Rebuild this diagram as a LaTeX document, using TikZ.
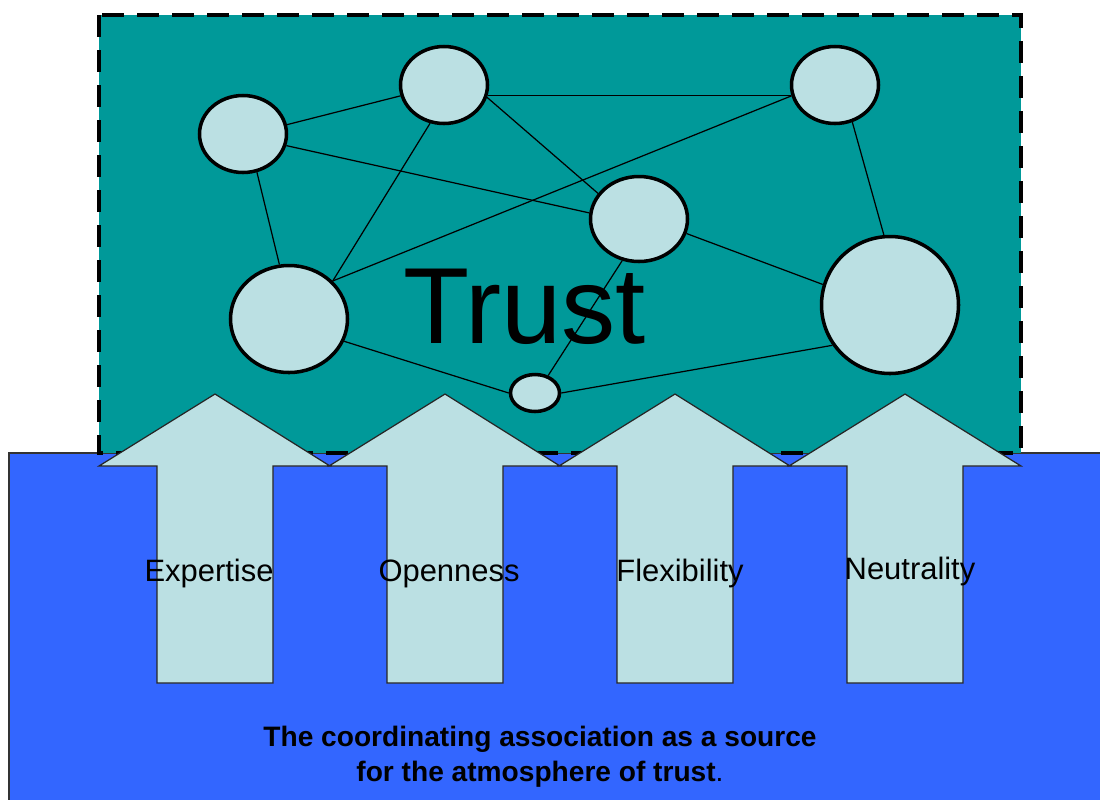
\documentclass[tikz,border=0pt]{standalone}
\usepackage{fontspec}
\setmainfont{Liberation Sans}
\usepackage{xcolor}
\usepackage{tikz}
\usetikzlibrary{shapes.geometric}
\definecolor{trteal}{HTML}{009999}
\definecolor{trblue}{HTML}{3366FF}
\definecolor{trlight}{HTML}{BBE0E3}
\tikzset{
  trbase/.style={fill=trblue, draw=black!80, line width=0.4pt},
  trframe/.style={fill=trteal, draw=black, line width=1.1pt, dash pattern=on 0.22cm off 0.13cm},
  trcirc/.style={ellipse, fill=trlight, draw=black, line width=1pt, inner sep=0pt},
  trlink/.style={line width=0.35pt, draw=black},
  trarrow/.style={fill=trlight, draw=black!85, line width=0.35pt, line join=miter},
  trlabel/.style={anchor=base, inner sep=0pt, font=\fontsize{8.8}{10.5}\selectfont},
}

\begin{document}
\begin{tikzpicture}
\useasboundingbox (0,0) rectangle (11,-7.99);
\draw[trbase] (0.09,-4.53) rectangle (11.20,-8.20);
\draw[trframe] (0.99,-0.15) rectangle (10.21,-4.53);
% network of members
\node[trcirc, minimum width=0.87cm, minimum height=0.77cm] (mA) at (2.43,-1.34) {};
\node[trcirc, minimum width=0.87cm, minimum height=0.77cm] (mB) at (4.44,-0.85) {};
\node[trcirc, minimum width=1.17cm, minimum height=1.07cm] (mC) at (2.89,-3.19) {};
\node[trcirc, minimum width=0.49cm, minimum height=0.37cm] (mD) at (5.35,-3.93) {};
\node[trcirc, minimum width=0.97cm, minimum height=0.85cm] (mE) at (6.39,-2.19) {};
\node[trcirc, minimum width=0.87cm, minimum height=0.77cm] (mF) at (8.35,-0.85) {};
\node[trcirc, minimum width=1.37cm, minimum height=1.37cm] (mG) at (8.90,-3.05) {};
\draw[trlink] (mA.12) -- (mB.194);
\draw[trlink] (mA.345) -- (mE.173);
\draw[trlink] (mA.290) -- (mC.100);
\draw[trlink] (mB.250) -- (mC.41);
\draw[trlink] (mC.41) -- (mF.194);
\draw[trlink] (mB.346) -- (mF.194);
\draw[trlink] (mB.344) -- (mE.148);
\draw[trlink] (mE.248) -- (mD.53);
\draw[trlink] (mC.338) -- (mD.180);
\draw[trlink] (mD.0) -- (mG.215);
\draw[trlink] (mE.343) -- (mG.163);
\draw[trlink] (mF.295) -- (mG.95);
\node[anchor=base, inner sep=0pt, font=\fontsize{30.8}{36}\selectfont] (trust) at (5.245,-3.43) {Trust};
% pillars
\draw[trarrow] (2.15,-3.94) -- (3.30,-4.66) -- (2.73,-4.66) -- (2.73,-6.83) -- (1.57,-6.83) -- (1.57,-4.66) -- (0.99,-4.66) -- cycle;
\draw[trarrow] (4.45,-3.94) -- (5.60,-4.66) -- (5.03,-4.66) -- (5.03,-6.83) -- (3.87,-6.83) -- (3.87,-4.66) -- (3.29,-4.66) -- cycle;
\draw[trarrow] (6.75,-3.94) -- (7.90,-4.66) -- (7.33,-4.66) -- (7.33,-6.83) -- (6.17,-6.83) -- (6.17,-4.66) -- (5.59,-4.66) -- cycle;
\draw[trarrow] (9.05,-3.94) -- (10.21,-4.66) -- (9.63,-4.66) -- (9.63,-6.83) -- (8.47,-6.83) -- (8.47,-4.66) -- (7.89,-4.66) -- cycle;
\node[trlabel] (lexp) at (2.09,-5.81) {Expertise};
\node[trlabel] (lopen) at (4.49,-5.81) {Openness};
\node[trlabel] (lflex) at (6.80,-5.81) {Flexibility};
\node[trlabel] (lneut) at (9.10,-5.79) {Neutrality};
\node[anchor=base, inner sep=0pt, align=center, font=\fontsize{8}{9.7}\selectfont\bfseries] (source) at (5.40,-7.81)
  {The coordinating association as a source\\for the atmosphere of trust\textnormal{.}};
\end{tikzpicture}
\end{document}
